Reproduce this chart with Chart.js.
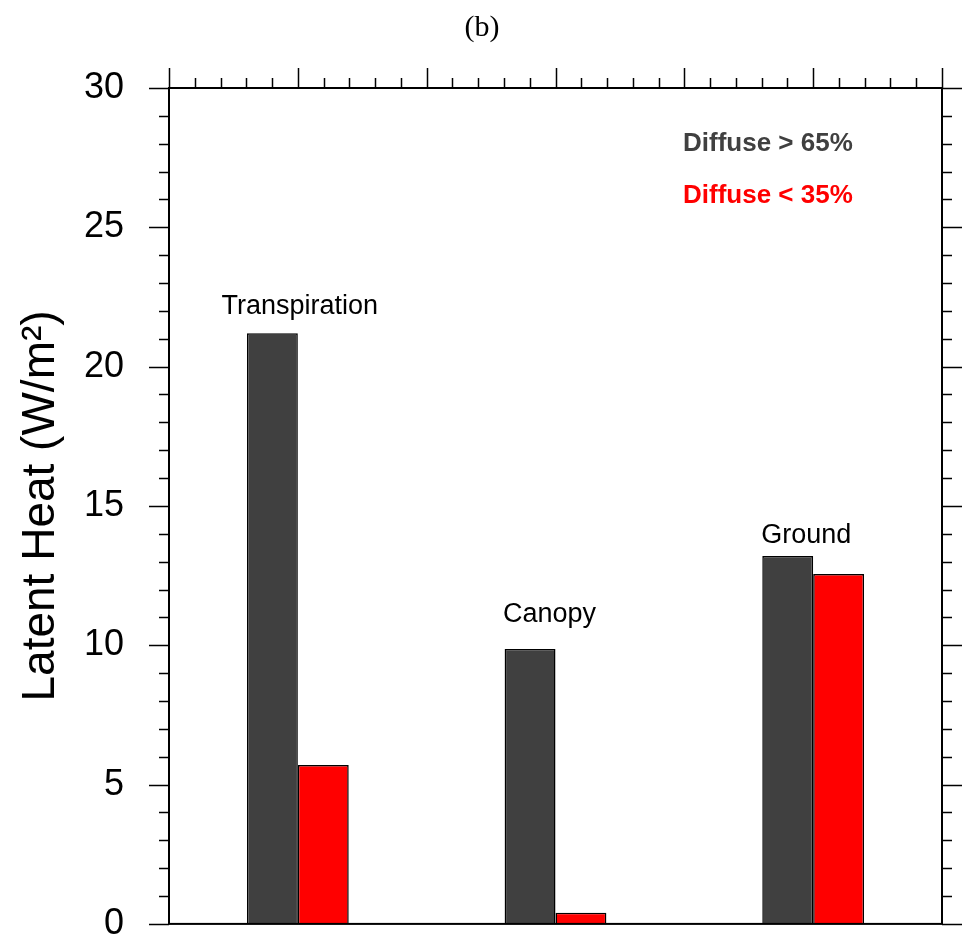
<!DOCTYPE html>
<html>
<head>
<meta charset="utf-8">
<script src="https://cdn.jsdelivr.net/npm/chart.js@4"></script>
<style>
  html, body { margin: 0; padding: 0; background: #ffffff; }
  #wrap { width: 967px; height: 941px; }
</style>
</head>
<body>
<div id="wrap"><canvas id="heatChart" width="967" height="941"></canvas></div>
<script>
// Data
const categories = ['Transpiration', 'Canopy', 'Ground'];
const seriesNames = ['Diffuse > 65%', 'Diffuse < 35%'];
const diffuseHigh = [21.2, 9.87, 13.2];
const diffuseLow = [5.7, 0.4, 12.56];
const yTickValues = [0, 5, 10, 15, 20, 25, 30];

const darkGrey = '#404040';
const red = '#ff0000';

// label nudges in pixels (dx, dy above the dark bar top)
const labelNudge = [[2, -27], [-6, -34], [-7, -21]];

const framePlugin = {
    id: 'ncFrame',
    afterDraw(chart) {
        const ctx = chart.ctx;
        const area = chart.chartArea;
        const x = chart.scales.x;
        const y = chart.scales.y;

        ctx.save();
        ctx.strokeStyle = '#000';
        ctx.lineWidth = 2;
        ctx.strokeRect(area.left, area.top, area.right - area.left, area.bottom - area.top);

        // left and right ticks
        ctx.lineWidth = 1.5;
        ctx.beginPath();
        for (let v = 0; v <= 30; v++) {
            const py = Math.round(y.getPixelForValue(v)) + 0.5;
            const len = v % 5 === 0 ? 20 : 10;
            ctx.moveTo(area.left - len, py);
            ctx.lineTo(area.left, py);
            ctx.moveTo(area.right, py);
            ctx.lineTo(area.right + len, py);
        }
        // top ticks
        for (let i = 0; i <= 30; i++) {
            const t = -0.5 + i * 0.1;
            const px = Math.round(x.getPixelForValue(t)) + 0.5;
            const len = i % 5 === 0 ? 20 : 10;
            ctx.moveTo(px, area.top);
            ctx.lineTo(px, area.top - len);
        }
        ctx.stroke();

        // panel title
        ctx.fillStyle = '#000';
        ctx.font = '30px "Liberation Serif"';
        ctx.textAlign = 'center';
        ctx.textBaseline = 'middle';
        ctx.fillText('(b)', 482, 28);

        // legend text
        ctx.font = 'bold 26px "Liberation Sans"';
        ctx.textAlign = 'left';
        ctx.fillStyle = darkGrey;
        ctx.fillText(seriesNames[0], 683, 144);
        ctx.fillStyle = red;
        ctx.fillText(seriesNames[1], 683, 196);

        // category labels above the bars
        ctx.font = '27px "Liberation Sans"';
        ctx.textAlign = 'center';
        ctx.fillStyle = '#000';
        categories.forEach((name, i) => {
            const px = x.getPixelForValue(i) + labelNudge[i][0];
            const py = y.getPixelForValue(diffuseHigh[i]) + labelNudge[i][1];
            ctx.fillText(name, px, py);
        });
        ctx.restore();
    }
};

new Chart(document.getElementById('heatChart').getContext('2d'), {
    type: 'bar',
    data: {
        labels: categories,
        datasets: [
            {
                label: seriesNames[0],
                data: diffuseHigh,
                backgroundColor: darkGrey,
                borderColor: '#000',
                borderWidth: 1.5
            },
            {
                label: seriesNames[1],
                data: diffuseLow,
                backgroundColor: red,
                borderColor: '#000',
                borderWidth: 1.5
            }
        ]
    },
    options: {
        responsive: false,
        animation: false,
        devicePixelRatio: 1,
        layout: { padding: { top: 88, bottom: 17, right: 25, left: 0 } },
        categoryPercentage: 0.395,
        barPercentage: 1.0,
        plugins: {
            legend: { display: false },
            title: { display: false },
            tooltip: { enabled: false }
        },
        scales: {
            x: {
                display: false
            },
            y: {
                min: 0,
                max: 30,
                afterBuildTicks: (scale) => {
                    scale.ticks = yTickValues.map(v => ({ value: v }));
                },
                afterFit: (scale) => { scale.width = 169; },
                // invisible tick marks only push the labels away from the frame
                grid: {
                    display: true,
                    drawOnChartArea: false,
                    drawTicks: true,
                    tickLength: 45,
                    color: 'rgba(0,0,0,0)'
                },
                border: { display: false },
                ticks: {
                    color: '#000',
                    padding: 0,
                    font: { family: 'Liberation Sans', size: 36, lineHeight: 0.95 }
                },
                title: {
                    display: true,
                    text: 'Latent Heat (W/m²)',
                    color: '#000',
                    padding: { top: 14, bottom: 0 },
                    font: { family: 'Liberation Sans', size: 46 }
                }
            }
        }
    },
    plugins: [framePlugin]
});
</script>
</body>
</html>
